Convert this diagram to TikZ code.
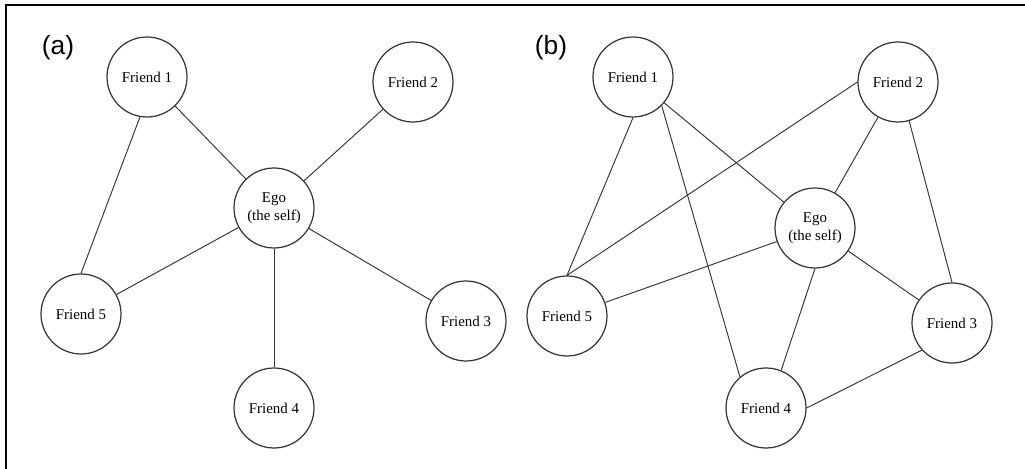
\documentclass[tikz,border=0pt]{standalone}
\usepackage{fontspec}
\setmainfont{Liberation Serif}
\newfontfamily\panelfont{Liberation Sans}
\usepackage{tikz}
\usetikzlibrary{calc}
\usetikzlibrary{positioning}

\definecolor{inkgray}{RGB}{55,55,55}
\tikzset{
  person/.style={circle, draw=inkgray, line width=0.7pt, minimum size=1.6cm, inner sep=0pt, align=center, font=\fontsize{8.5}{10.2}\selectfont},
  tie/.style={draw=inkgray, line width=0.55pt},
  panel/.style={font=\panelfont\fontsize{15}{15}\selectfont}
}

\begin{document}
\begin{tikzpicture}[x=0.02cm, y=-0.02cm]
 \useasboundingbox (0, 0) rectangle (1025, 469);
 \draw [line width=0.9pt] (6, 469) -- (6, 5) -- (1025, 5);

 % (a) ego network
 \node [panel] (la) at (58, 48) {(a)};
 \node [person] (aF1) at (147, 77) {Friend 1};
 \node [person] (aF2) at (413, 82) {Friend 2};
 \node [person] (aE) at (274, 208) {Ego\\(the self)};
 \node [person] (aF5) at (81, 314) {Friend 5};
 \node [person] (aF3) at (466, 321) {Friend 3};
 \node [person] (aF4) at (274, 408) {Friend 4};
 \draw [tie] (aF1) to (aE);
 \draw [tie] (aF2) to (aE);
 \draw [tie] (aF1.-100) to (aF5.north);
 \draw [tie] (aF5) to (aE);
 \draw [tie] (aE) to (aF3);
 \draw [tie] (aE) to (aF4);

 % (b) dense network
 \node [panel] (lb) at (551, 48) {(b)};
 \node [person] (bF1) at (633, 77) {Friend 1};
 \node [person] (bF2) at (898, 82) {Friend 2};
 \node [person] (bE) at (815, 228) {Ego\\(the self)};
 \node [person] (bF5) at (567, 316) {Friend 5};
 \node [person] (bF3) at (952, 323) {Friend 3};
 \node [person] (bF4) at (766, 408) {Friend 4};
 \draw [tie] (bF1.south) to (bF5.north);
 \draw [tie] (bF1.-45) to (bF4.130);
 \draw [tie] (bF1) to (bE);
 \draw [tie] (bF2.west) to (bF5.north);
 \draw [tie] (bF2) to (bE);
 \draw [tie] (bF2.-74) to (bF3.north);
 \draw [tie] (bE) to (bF5);
 \draw [tie] (bE.south) to (bF4.68);
 \draw [tie] (bE) to (bF3);
 \draw [tie] (bF3.222) to (bF4.east);
\end{tikzpicture}
\end{document}
